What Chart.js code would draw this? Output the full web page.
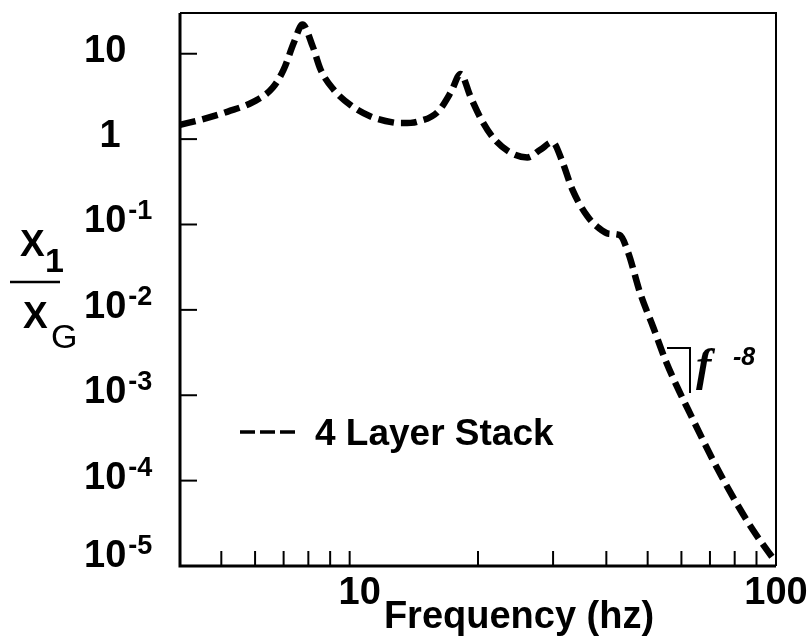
<!DOCTYPE html>
<html>
<head>
<meta charset="utf-8">
<script src="https://cdn.jsdelivr.net/npm/chart.js@4.4.1/dist/chart.umd.min.js"></script>
<style>
  html, body { margin: 0; padding: 0; background: #fff; }
  canvas { display: block; }
</style>
</head>
<body>
<canvas id="myChart" width="812" height="643"></canvas>
<script>
// values (frequency in hz, ratio X1/XG)
var freq = [4, 4.48, 5.18, 5.96, 6.6, 7.0, 7.4, 7.75, 8.19, 8.55, 9.17, 10.05, 11.2, 12.7, 13.3, 14.4, 16.1, 17.3, 18.2,
            19.2, 20.3, 21.7, 23.8, 26.1, 28, 29.9, 31.6, 33.3, 36.1, 38.5, 40.5, 43, 45, 48, 51.5, 55, 58.6, 62.2,
            71.1, 79.3, 88.3, 100];
var ratio = [1.47, 1.69, 2.1, 2.75, 4.0, 6.5, 13.5, 22, 12.2, 6.5, 3.8, 2.5, 1.84, 1.56, 1.54, 1.6, 2.09, 3.6, 5.8,
             3.15, 1.75, 1.04, 0.70, 0.61, 0.75, 0.92, 0.53, 0.256, 0.125, 0.09, 0.078, 0.075, 0.047, 0.0158, 0.0063, 0.0026, 0.00126, 0.00068,
             0.000175, 0.000064, 0.0000264, 0.000011];

var xTicks = [5, 6, 7, 8, 9, 10, 20, 30, 40, 50, 60, 70, 80, 90];
var xLabels = [10, 100];
var yTicks = [10, 1, 0.1, 0.01, 0.001, 0.0001];
var yLabels = [[10, ""], [1, ""], [0.1, "-1"], [0.01, "-2"], [0.001, "-3"], [0.0001, "-4"], [0.00001, "-5"]];

var SANS = '"Liberation Sans", Arial, Helvetica, sans-serif';

var axesPlugin = {
    id: 'axesPlugin',
    afterDraw: function(chart) {
        var ctx = chart.ctx;
        var a = chart.chartArea;
        var xs = chart.scales.x, ys = chart.scales.y;
        ctx.save();
        ctx.strokeStyle = '#000';
        ctx.fillStyle = '#000';
        ctx.lineCap = 'butt';

        // frame
        ctx.lineWidth = 2;
        ctx.beginPath();
        ctx.moveTo(a.left, a.top); ctx.lineTo(a.right, a.top); ctx.lineTo(a.right, a.bottom);
        ctx.stroke();
        ctx.lineWidth = 3;
        ctx.beginPath();
        ctx.moveTo(a.left, a.top); ctx.lineTo(a.left, a.bottom); ctx.lineTo(a.right, a.bottom);
        ctx.stroke();

        // ticks
        ctx.lineWidth = 2;
        xTicks.forEach(function(v) {
            var px = xs.getPixelForValue(v);
            ctx.beginPath(); ctx.moveTo(px, a.bottom); ctx.lineTo(px, a.bottom - 15); ctx.stroke();
        });
        yTicks.forEach(function(v) {
            var py = ys.getPixelForValue(v);
            ctx.beginPath(); ctx.moveTo(a.left, py); ctx.lineTo(a.left + 17, py); ctx.stroke();
        });

        // y tick labels
        ctx.textBaseline = 'alphabetic';
        yLabels.forEach(function(l) {
            var py = Math.min(ys.getPixelForValue(l[0]) + 8, a.bottom + 1);
            ctx.font = 'bold 38px ' + SANS;
            if (l[0] === 1) {
                ctx.textAlign = 'center';
                ctx.fillText('1', 110, py);
                return;
            }
            ctx.textAlign = 'left';
            ctx.fillText('10', 84, py);
            if (l[1]) {
                var w = ctx.measureText('10').width;
                ctx.font = 'bold 27px ' + SANS;
                ctx.fillText(l[1], 84 + w + 2, py - 13);
            }
        });

        // x tick labels
        ctx.font = 'bold 38px ' + SANS;
        ctx.textAlign = 'center';
        xLabels.forEach(function(v) {
            var px = xs.getPixelForValue(v);
            ctx.fillText(String(v), v === 10 ? px + 10 : px, 604);
        });

        // x title
        ctx.fillText('Frequency (hz)', 519, 628);

        // y title X1 / XG
        ctx.textAlign = 'left';
        ctx.font = 'bold 37px ' + SANS;
        ctx.fillText('X', 20, 256);
        ctx.fillText('X', 23, 328);
        ctx.font = 'bold 34px ' + SANS;
        ctx.fillText('1', 45, 272);
        ctx.font = '34px ' + SANS;
        ctx.fillText('G', 51, 348);
        ctx.lineWidth = 2.5;
        ctx.beginPath(); ctx.moveTo(10, 282); ctx.lineTo(60, 282); ctx.stroke();

        // legend
        ctx.lineWidth = 3.5;
        ctx.setLineDash([15, 5]);
        ctx.beginPath(); ctx.moveTo(240, 432); ctx.lineTo(295, 432); ctx.stroke();
        ctx.setLineDash([]);
        ctx.font = 'bold 37px ' + SANS;
        ctx.fillText('4 Layer Stack', 315, 445);

        // slope mark f^-8
        ctx.lineWidth = 2;
        ctx.beginPath(); ctx.moveTo(667, 348); ctx.lineTo(690, 348); ctx.lineTo(690, 393); ctx.stroke();
        ctx.font = 'italic bold 46px "Liberation Serif", "Times New Roman", serif';
        ctx.fillText('f', 696, 380);
        ctx.font = 'italic bold 25px ' + SANS;
        ctx.fillText('-8', 733, 365);

        ctx.restore();
    }
};

var ctx = document.getElementById("myChart");

var myChart = new Chart(ctx, {
    type: 'scatter',
    data: {
        datasets: [{
            label: '4 Layer Stack',
            data: freq.map(function(f, i) { return { x: f, y: ratio[i] }; }),
            showLine: true,
            borderColor: '#000',
            backgroundColor: '#000',
            borderWidth: 6.5,
            borderDash: [16, 7],
            borderCapStyle: 'butt',
            pointRadius: 0,
            cubicInterpolationMode: 'monotone',
            fill: false
        }]
    },
    options: {
        responsive: false,
        animation: false,
        devicePixelRatio: 1,
        layout: { padding: { left: 180, top: 13, right: 36, bottom: 77 } },
        scales: {
            x: { type: 'logarithmic', min: 4, max: 100, display: false },
            y: { type: 'logarithmic', min: 0.00001, max: 30, display: false }
        },
        plugins: {
            legend: { display: false },
            tooltip: { enabled: false }
        }
    },
    plugins: [axesPlugin]
});
</script>
</body>
</html>
